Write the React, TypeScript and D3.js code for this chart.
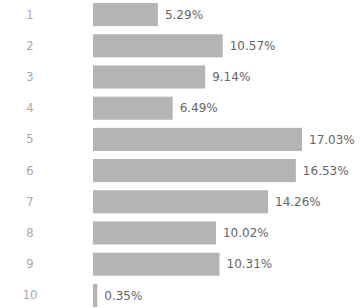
import * as React from 'react';
import * as d3 from 'd3';

const categories: string[] = ['1', '2', '3', '4', '5', '6', '7', '8', '9', '10'];
const values: number[] = [5.29, 10.57, 9.14, 6.49, 17.03, 16.53, 14.26, 10.02, 10.31, 0.35];
const valueLabels: string[] = ['5.29%', '10.57%', '9.14%', '6.49%', '17.03%', '16.53%', '14.26%', '10.02%', '10.31%', '0.35%'];

const width = 361, height = 308;

export default function App() {
  const svgRef = React.useRef<SVGSVGElement>(null);

  React.useEffect(() => {
    const svg = d3.select(svgRef.current);
    svg.selectAll('*').remove();

    const y = d3.scaleBand<string>()
      .domain(categories)
      .range([-1, 311])
      .paddingInner(0.26)
      .paddingOuter(0.13);

    const x = d3.scaleLinear()
      .domain([0, d3.max(values) || 0])
      .range([93, 302]);

    const data = categories.map((c, i) => ({ c, v: values[i], label: valueLabels[i] }));

    svg.selectAll('text.cat')
      .data(data)
      .enter()
      .append('text')
      .attr('class', 'cat')
      .attr('x', 30)
      .attr('y', d => (y(d.c) || 0) + y.bandwidth() / 2)
      .attr('dy', '0.35em')
      .attr('text-anchor', 'middle')
      .attr('font-family', 'DejaVu Sans, Verdana, sans-serif')
      .attr('font-size', 11.5)
      .attr('fill', '#a8a8a8')
      .text(d => d.c);

    svg.selectAll('rect')
      .data(data)
      .enter()
      .append('rect')
      .attr('x', x(0))
      .attr('y', d => y(d.c) || 0)
      .attr('width', d => Math.max(2.5, x(d.v) - x(0)))
      .attr('height', y.bandwidth())
      .attr('fill', '#b4b4b4');

    svg.selectAll('text.val')
      .data(data)
      .enter()
      .append('text')
      .attr('class', 'val')
      .attr('x', d => Math.max(x(d.v), x(0) + 2.5) + 7)
      .attr('y', d => (y(d.c) || 0) + y.bandwidth() / 2)
      .attr('dy', '0.35em')
      .attr('font-family', 'DejaVu Sans, Verdana, sans-serif')
      .attr('font-size', 12)
      .attr('fill', '#666')
      .text(d => d.label);
  }, []);

  return (
    <svg
      ref={svgRef}
      width={width}
      height={height}
      style={{ position: 'absolute', left: 0, top: 0, background: '#fff' }}
    />
  );
}
